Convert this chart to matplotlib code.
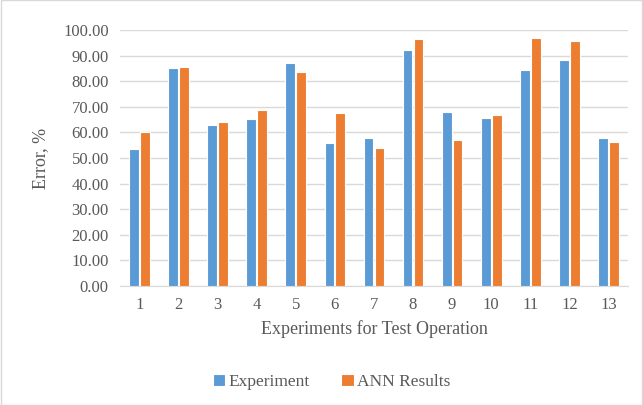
import numpy as np
import matplotlib.pyplot as plt
from matplotlib.patches import Rectangle

# values
experiments = [str(i) for i in range(1, 14)]
experiment = [53.6, 85.2, 62.7, 65.2, 87.0, 55.7, 57.9, 92.2, 68.0, 65.8, 84.2, 88.3, 57.9]
ann_results = [60.0, 85.6, 64.1, 68.9, 83.5, 67.6, 54.0, 96.5, 56.9, 66.8, 96.8, 95.7, 56.1]
yticks = np.arange(0, 101, 10)

plt.rcParams['font.family'] = ['Liberation Serif', 'DejaVu Serif']
txt = '#595959'

fig = plt.figure(figsize=(6.43, 4.05), dpi=100)
ax = fig.add_axes([0.1866, 0.2938, 0.79, 0.6322])

x = np.arange(len(experiments))
w = 0.25
ax.bar(x - 0.14, experiment, w, color='#5B9BD5', edgecolor='white', linewidth=0.8,
       label='Experiment', zorder=3)
ax.bar(x + 0.14, ann_results, w, color='#ED7D31', edgecolor='white', linewidth=0.8,
       label='ANN Results', zorder=3)

ax.set_xlim(-0.5, len(experiments) - 0.5)
ax.set_ylim(0, 100)
ax.set_yticks(yticks)
ax.set_yticklabels(['%.2f' % v for v in yticks])
ax.set_xticks(x)
ax.set_xticklabels(experiments)
ax.tick_params(length=0, labelsize=12, colors=txt, pad=8)
ax.grid(axis='y', color='#D9D9D9', linewidth=1, zorder=0)
for s in ['top', 'right', 'left']:
    ax.spines[s].set_visible(False)
ax.spines['bottom'].set_color('#D9D9D9')

ax.set_ylabel('Error, %', fontsize=13, color=txt, labelpad=10)
ax.set_xlabel('Experiments for Test Operation', fontsize=13, color=txt, labelpad=5)

fig.legend(loc='center', bbox_to_anchor=(0.516, 0.057), ncol=2, frameon=False,
           fontsize=12.5, labelcolor=txt, handlelength=0.7, handleheight=0.7,
           handletextpad=0.2, columnspacing=1.8)

fig.patches.append(Rectangle((0.001, 0.001), 0.998, 0.998, transform=fig.transFigure,
                             fill=False, edgecolor='#D9D9D9', linewidth=1))

fig.savefig('out.png', dpi=100)
